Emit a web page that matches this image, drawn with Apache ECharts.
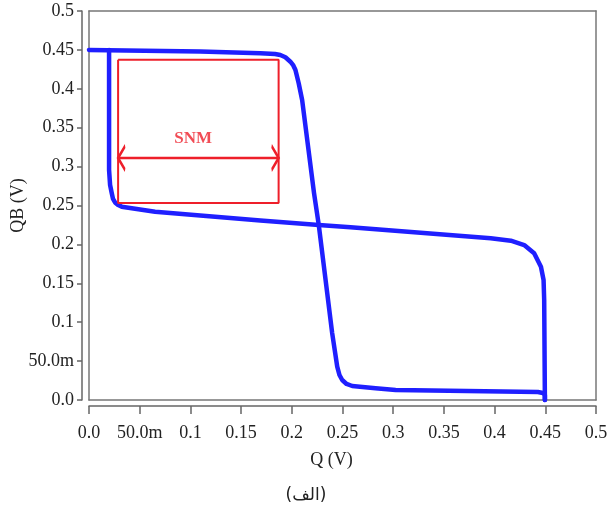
<!DOCTYPE html>
<html><head><meta charset="utf-8">
<script src="https://cdn.jsdelivr.net/npm/echarts@6/dist/echarts.min.js"></script>
<style>html,body{margin:0;padding:0;background:#fff}#c{width:612px;height:506px}</style>
</head><body><div id="c"></div>
<script>
const tickLabels = ['0.0','50.0m','0.1','0.15','0.2','0.25','0.3','0.35','0.4','0.45','0.5'];

const curve1Q  = [0, 0.1097, 0.169, 0.1835, 0.1887, 0.1937, 0.1986, 0.2015, 0.2036, 0.2068, 0.2102, 0.2219, 0.2266, 0.2398, 0.2448, 0.247, 0.2497, 0.254, 0.2596, 0.2826, 0.3024, 0.4427, 0.4476, 0.4496, 0.4496];
const curve1QB = [0.450, 0.4479, 0.4456, 0.4447, 0.4434, 0.4405, 0.4348, 0.4300, 0.4242, 0.4071, 0.3856, 0.2661, 0.2249, 0.0861, 0.0428, 0.0321, 0.0257, 0.0206, 0.018, 0.015, 0.0129, 0.0103, 0.009, 0.0064, 0];

const curve2Q  = [0.0198, 0.0198, 0.0208, 0.0224, 0.0237, 0.0257, 0.0287, 0.0323, 0.0487, 0.0652, 0.169, 0.2266, 0.2579, 0.3962, 0.416, 0.4292, 0.439, 0.4457, 0.4483, 0.4489, 0.4496];
const curve2QB = [0.45, 0.2956, 0.2763, 0.2661, 0.2584, 0.2539, 0.2506, 0.2485, 0.2451, 0.242, 0.2307, 0.2249, 0.222, 0.2078, 0.2048, 0.1992, 0.1886, 0.1713, 0.1542, 0.1285, 0];

const snmBoxQ  = [0.0287, 0.187, 0.187, 0.0287, 0.0287];
const snmBoxQB = [0.4375, 0.4375, 0.2532, 0.2532, 0.4375];
const snmArrowQ  = [0.0287, 0.187];
const snmArrowQB = [0.311, 0.311];
const snmLabelText = 'SNM';
const snmLabelQ = 0.1028, snmLabelQB = 0.3355;

const blue = '#1f1fff', red = '#ee1f2a', ink = '#222';
const serif = '"Liberation Serif", "Times New Roman", serif';
const zip = (a, b) => a.map((v, i) => [v, b[i]]);
const fmt = v => tickLabels[Math.round(v / 0.05)];
const frameAxis = (extra) => Object.assign({
  type: 'value', min: 0, max: 0.5, interval: 0.05,
  axisLine: {show: true, onZero: false, lineStyle: {color: '#777', width: 1.5}},
  axisTick: {show: false}, axisLabel: {show: false}, splitLine: {show: false}
}, extra);

const chart = echarts.init(document.getElementById('c'), null, {renderer: 'canvas'});
chart.setOption({
  animation: false,
  backgroundColor: '#fff',
  title: {
    text: '(الف)', left: 'center', top: 482,
    textStyle: {fontFamily: '"DejaVu Sans", sans-serif', fontSize: 17, fontWeight: 'normal', color: ink}
  },
  grid: {left: 89, right: 16, top: 11, bottom: 106, outerBoundsMode: 'none', containLabel: false},
  xAxis: [{
    type: 'value', min: 0, max: 0.5, interval: 0.05, offset: 6, position: 'bottom',
    name: 'Q (V)', nameLocation: 'middle', nameGap: 45, nameMoveOverlap: false,
    nameTextStyle: {fontFamily: serif, fontSize: 18, color: ink, padding: [0, 22, 0, 0]},
    axisLine: {show: true, onZero: false, lineStyle: {color: '#666', width: 1.5}},
    axisTick: {show: true, length: 8, lineStyle: {color: '#666', width: 1.5}},
    axisLabel: {formatter: fmt, fontFamily: serif, fontSize: 18, color: ink, margin: 18},
    splitLine: {show: false}
  },
  frameAxis({position: 'bottom', offset: 0}),
  frameAxis({position: 'top', offset: 0})],
  yAxis: [{
    type: 'value', min: 0, max: 0.5, interval: 0.05, offset: 7, position: 'left',
    name: 'QB (V)', nameLocation: 'middle', nameGap: 55, nameMoveOverlap: false,
    nameTextStyle: {fontFamily: serif, fontSize: 18, color: ink},
    axisLine: {show: true, onZero: false, lineStyle: {color: '#666', width: 1.5}},
    axisTick: {show: true, length: 5, lineStyle: {color: '#666', width: 1.5}},
    axisLabel: {formatter: fmt, fontFamily: serif, fontSize: 18, color: ink, margin: 8},
    splitLine: {show: false}
  },
  frameAxis({position: 'left', offset: 0}),
  frameAxis({position: 'right', offset: 0})],
  series: [
    {type: 'line', data: zip(curve1Q, curve1QB), symbol: 'none', clip: false,
     lineStyle: {color: blue, width: 4.5, join: 'round', cap: 'round'}, z: 3},
    {type: 'line', data: zip(curve2Q, curve2QB), symbol: 'none', clip: false,
     lineStyle: {color: blue, width: 4.5, join: 'round', cap: 'round'}, z: 3},
    {type: 'line', data: zip(snmBoxQ, snmBoxQB), symbol: 'none',
     lineStyle: {color: red, width: 2}, z: 4},
    {type: 'line', z: 4,
     data: [
       {value: [snmArrowQ[0], snmArrowQB[0]], symbol: 'path://M10,0 L0,10 L10,20', symbolSize: [7, 24], symbolOffset: [3.5, 0]},
       {value: [snmArrowQ[1], snmArrowQB[1]], symbol: 'path://M0,0 L10,10 L0,20', symbolSize: [7, 24], symbolOffset: [-3.5, 0]}
     ],
     showSymbol: true,
     itemStyle: {color: 'rgba(0,0,0,0)', borderColor: red, borderWidth: 2.5},
     lineStyle: {color: red, width: 2.5}},
    {type: 'scatter', data: [[snmLabelQ, snmLabelQB]], symbolSize: 0, z: 5,
     label: {show: true, position: 'inside', formatter: snmLabelText,
             fontFamily: serif, fontWeight: 'bold', fontSize: 17, color: red}}
  ]
});
</script></body></html>
